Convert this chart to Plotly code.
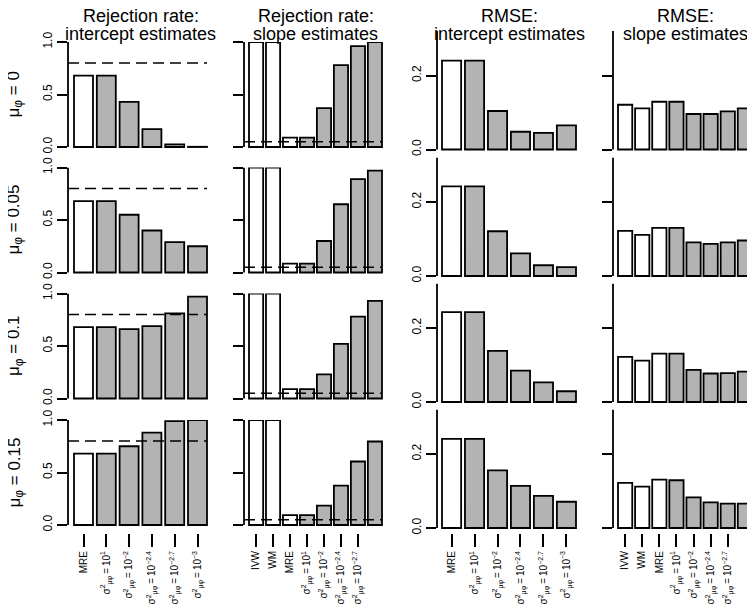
import plotly.graph_objects as go

# ---------------- data ----------------
mu_phi_labels = ["0", "0.05", "0.1", "0.15"]

col_titles = [
    ("Rejection rate:", "intercept estimates"),
    ("Rejection rate:", "slope estimates"),
    ("RMSE:", "intercept estimates"),
    ("RMSE:", "slope estimates"),
]

sigma_exponents = ["1", "−2", "−2.4", "−2.7", "−3"]

def sigma_label(e):
    return "σ<sup>2</sup><sub>μφ</sub>\u2009=\u200910<sup>" + e + "</sup>"

intercept_methods = ["MRE"] + [sigma_label(e) for e in sigma_exponents]
slope_methods = ["IVW", "WM", "MRE"] + [sigma_label(e) for e in sigma_exponents]

# rejection rate, intercept estimates (rows: mu_phi = 0, 0.05, 0.1, 0.15)
rej_intercept = [
    [0.68, 0.68, 0.43, 0.17, 0.025, 0.002],
    [0.68, 0.68, 0.55, 0.40, 0.29, 0.25],
    [0.68, 0.68, 0.66, 0.69, 0.81, 0.97],
    [0.68, 0.68, 0.75, 0.88, 0.99, 1.00],
]
# rejection rate, slope estimates
rej_slope = [
    [1.00, 1.00, 0.09, 0.09, 0.37, 0.78, 0.96, 1.00],
    [1.00, 1.00, 0.085, 0.085, 0.30, 0.65, 0.89, 0.97],
    [1.00, 1.00, 0.09, 0.09, 0.23, 0.52, 0.78, 0.93],
    [1.00, 1.00, 0.095, 0.095, 0.185, 0.375, 0.605, 0.795],
]
# RMSE, intercept estimates
rmse_intercept = [
    [0.240, 0.240, 0.104, 0.048, 0.045, 0.065],
    [0.242, 0.242, 0.121, 0.061, 0.029, 0.024],
    [0.243, 0.243, 0.138, 0.085, 0.053, 0.029],
    [0.241, 0.241, 0.156, 0.114, 0.087, 0.071],
]
# RMSE, slope estimates
rmse_slope = [
    [0.121, 0.111, 0.129, 0.129, 0.096, 0.096, 0.103, 0.111],
    [0.122, 0.111, 0.130, 0.130, 0.091, 0.087, 0.091, 0.096],
    [0.122, 0.112, 0.131, 0.131, 0.087, 0.077, 0.078, 0.082],
    [0.122, 0.112, 0.131, 0.129, 0.083, 0.069, 0.066, 0.066],
]

power_target = 0.8   # dashed line, intercept rejection rate
alpha_level = 0.05   # dashed line, slope rejection rate

n_white_intercept = 1
n_white_slope = 3

# ---------------- layout geometry (pixels of the 755x605 window) ----------------
WIN_W, WIN_H = 755, 605
OFF = 8                      # page body margin offset
W, H = WIN_W - OFF, WIN_H - OFF
FONT = "Liberation Sans, Arial, Helvetica, sans-serif"
WHITE, GREY = "#ffffff", "#b3b3b3"
BW = 1 / 1.2  # bar width in category units (R space = 0.2)


def fx(p):
    return (p - OFF) / W


def fy(p):
    return 1 - (p - OFF) / H


panels_cols = [
    dict(data=rej_intercept, cats=intercept_methods, nwhite=n_white_intercept,
         axis=68, first=74, last=207, top=1.0, ppu=105.0, gap=8,
         zeros=[147, 272.5, 398.5, 525], ytv=[0, 0.5, 1.0], ytt=["0.0", "0.5", "1.0"],
         ylabels=True, ref=power_target, nlab=6),
    dict(data=rej_slope, cats=slope_methods, nwhite=n_white_slope,
         axis=244, first=249, last=382, top=1.0, ppu=105.0, gap=8,
         zeros=[147, 272.5, 398.5, 525], ytv=[0, 0.5, 1.0], ytt=["0.0", "0.5", "1.0"],
         ylabels=False, ref=alpha_level, nlab=7),
    dict(data=rmse_intercept, cats=intercept_methods, nwhite=n_white_intercept,
         axis=437, first=442, last=576, top=0.32, ppu=370.0, gap=5,
         zeros=[149.5, 276, 402, 528], ytv=[0, 0.2], ytt=["0.0", "0.2"],
         ylabels=True, ref=None, nlab=6),
    dict(data=rmse_slope, cats=slope_methods, nwhite=n_white_slope,
         axis=613, first=618, last=752, top=0.32, ppu=370.0, gap=5,
         zeros=[149.5, 276, 402, 528], ytv=[0, 0.2], ytt=["0.0", "0.2"],
         ylabels=False, ref=None, nlab=7),
]

fig = go.Figure()
layout = dict(template="none", width=W, height=H, margin=dict(l=0, r=0, t=0, b=0, pad=0),
              paper_bgcolor="white", plot_bgcolor="white", showlegend=False,
              font=dict(family=FONT, color="black"))
shapes, annotations = [], []

idx = 0
for ci, pc in enumerate(panels_cols):
    n = len(pc["cats"])
    step = (pc["last"] - pc["first"]) / (n - 1 + BW)
    off = (pc["first"] - pc["axis"]) / step
    xl = -BW / 2 - off
    xr = n - 1 + BW / 2 + off
    dom_r = pc["axis"] + (xr - xl) * step
    if dom_r > WIN_W:
        dom_r = WIN_W
        xr = xl + (WIN_W - pc["axis"]) / step
    for ri in range(4):
        idx += 1
        xa = "x" if idx == 1 else f"x{idx}"
        ya = "y" if idx == 1 else f"y{idx}"
        vals = pc["data"][ri]
        colors = [WHITE if k < pc["nwhite"] else GREY for k in range(n)]
        fig.add_trace(go.Bar(x=list(range(n)), y=vals, width=BW,
                             marker=dict(color=colors, line=dict(color="black", width=1.8)),
                             xaxis=xa, yaxis=ya, hoverinfo="skip"))
        if pc["ref"] is not None:
            fig.add_trace(go.Scatter(x=[xl, n - 1 + BW / 2], y=[pc["ref"], pc["ref"]],
                                     mode="lines", line=dict(color="black", width=1.6, dash="11px,6px"),
                                     xaxis=xa, yaxis=ya, hoverinfo="skip"))
        zero = pc["zeros"][ri]
        bot_px = zero + pc["gap"]
        top_px = zero - pc["top"] * pc["ppu"]
        ymin = -pc["gap"] / pc["ppu"]
        bottom_row = (ri == 3)
        xkey = "xaxis" if idx == 1 else f"xaxis{idx}"
        ykey = "yaxis" if idx == 1 else f"yaxis{idx}"
        layout[xkey] = dict(domain=[fx(pc["axis"]), fx(dom_r)], range=[xl, xr],
                            anchor=ya, showgrid=False, zeroline=False, showline=False,
                            automargin=False,
                            tickmode="array",
                            tickvals=list(range(pc["nlab"])) if bottom_row else [],
                            ticktext=pc["cats"][:pc["nlab"]] if bottom_row else [],
                            ticks="outside" if bottom_row else "",
                            ticklen=13, tickwidth=1.5, tickcolor="black",
                            tickangle=-90, showticklabels=bottom_row,
                            tickfont=dict(family=FONT, size=10, color="black"),
                            fixedrange=True)
        layout[ykey] = dict(domain=[fy(bot_px), fy(top_px)], range=[ymin, pc["top"]],
                            anchor=xa, showgrid=False, zeroline=False, showline=False,
                            automargin=False,
                            tickmode="array", tickvals=pc["ytv"], ticktext=pc["ytt"],
                            ticks="outside", ticklen=10, tickwidth=1.8, tickcolor="black",
                            tickangle=-90, showticklabels=pc["ylabels"],
                            tickfont=dict(family=FONT, size=12, color="black"),
                            fixedrange=True)
        # y axis line from 0 to top
        shapes.append(dict(type="line", xref=f"{xa} domain", yref=ya, x0=0, x1=0,
                           y0=0, y1=pc["top"], line=dict(color="black", width=1.8)))
    # column titles centred over the bars
    cx = (pc["first"] + pc["last"]) / 2
    for line_txt, ypx in zip(col_titles[ci], [16, 34]):
        annotations.append(dict(text=line_txt, x=fx(cx), y=fy(ypx), xref="paper", yref="paper",
                                xanchor="center", yanchor="middle", showarrow=False,
                                font=dict(family=FONT, size=18, color="black")))

# row labels
row_centres = [94.5, 219.5, 346, 472.5]
for lab, ypx in zip(mu_phi_labels, row_centres):
    annotations.append(dict(text="μ<sub>φ</sub> = " + lab, x=fx(15), y=fy(ypx),
                            xref="paper", yref="paper", xanchor="center", yanchor="middle",
                            textangle=-90, showarrow=False,
                            font=dict(family=FONT, size=17, color="black")))

layout["shapes"] = shapes
layout["annotations"] = annotations
fig.update_layout(**layout)
fig.write_html("out.html")
